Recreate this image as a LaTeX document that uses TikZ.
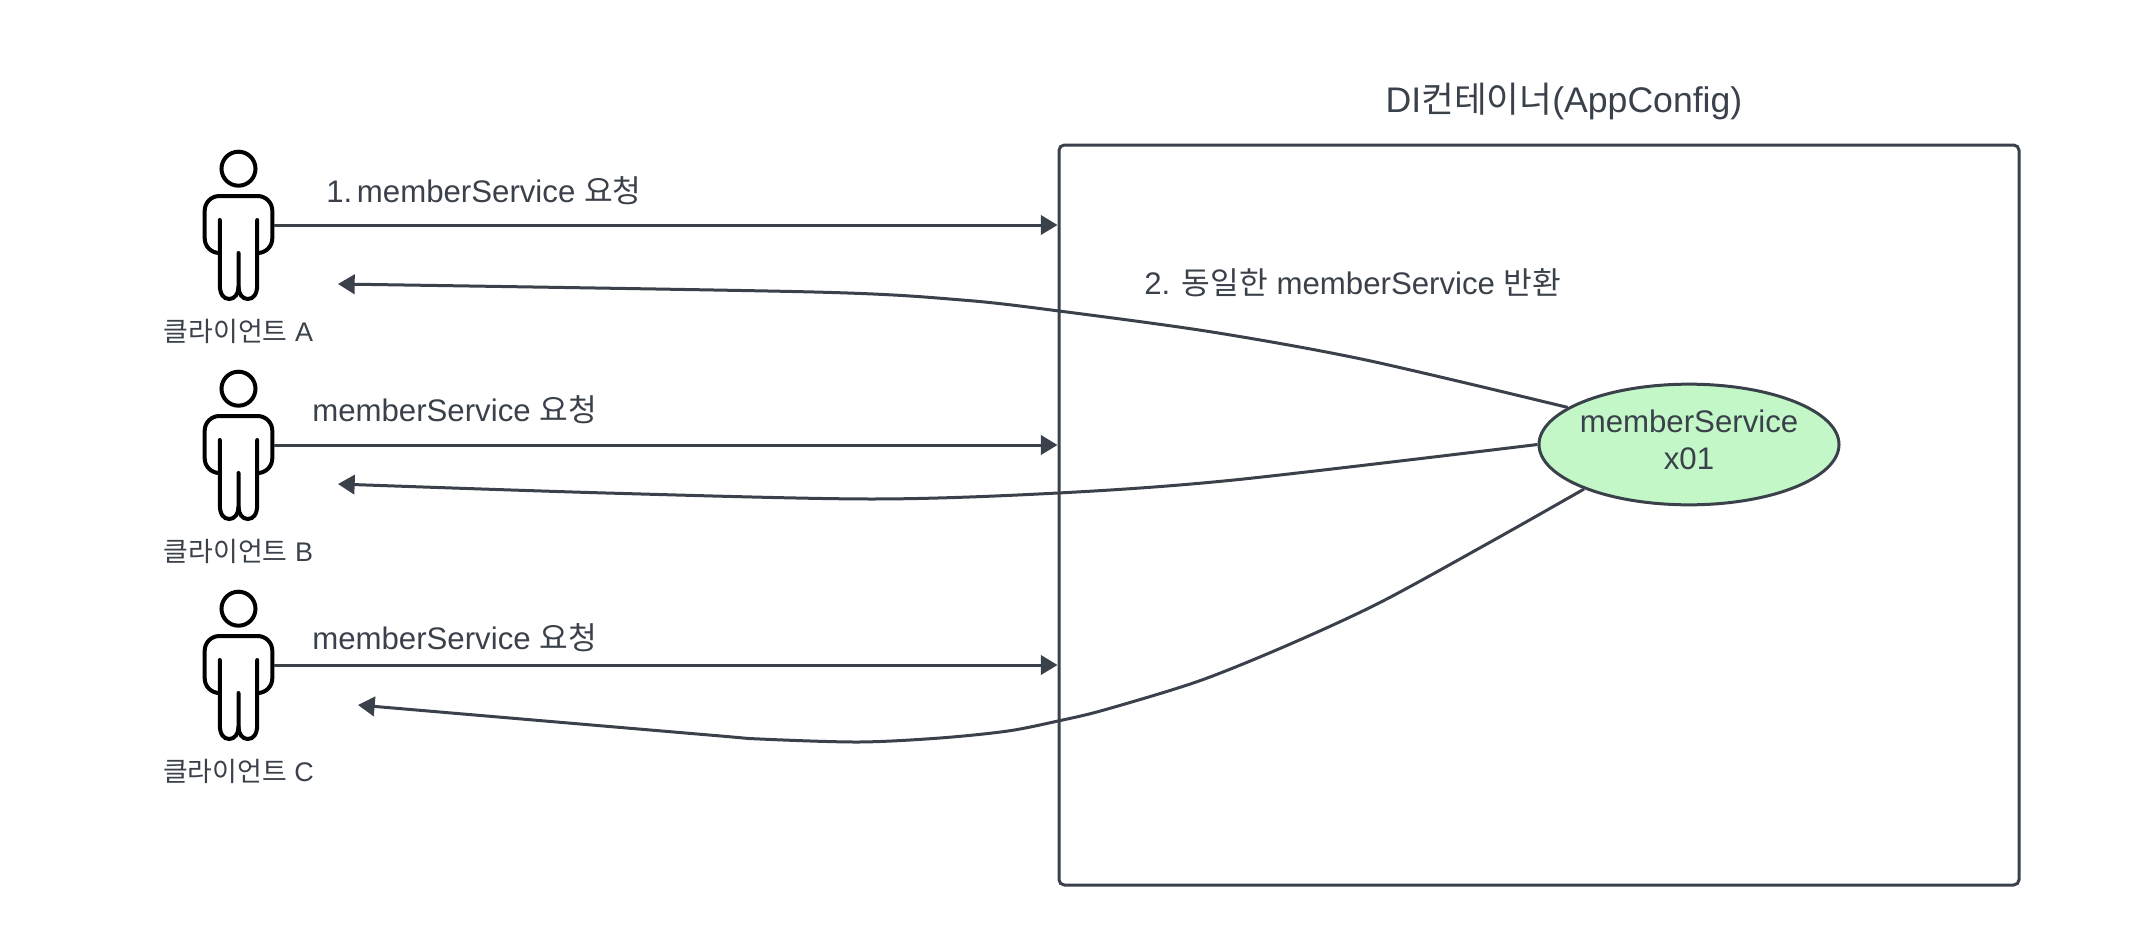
\documentclass[tikz,border=0pt]{standalone}
\usepackage{fontspec}
\setmainfont{Liberation Sans}
\newfontfamily\krfont{Noto Sans CJK KR}
\newcommand{\kr}[1]{{\krfont #1}}
\usetikzlibrary{arrows.meta,positioning,shapes.geometric}

\definecolor{inkgray}{HTML}{3A414A}
\definecolor{servicegreen}{HTML}{C3F7C8}

\begin{document}
\begin{tikzpicture}[
    x=0.75pt,
    y=-0.75pt,
    >={Triangle[length=12.5pt,width=14.5pt]},
    person/.style={
        minimum width=53.25pt,
        minimum height=112.5pt,
        inner sep=0pt
    },
    client label/.style={
        font=\fontsize{20.2}{24}\selectfont,
        text=inkgray,
        inner sep=0pt
    },
    flow label/.style={
        font=\fontsize{23.4}{28}\selectfont,
        text=inkgray,
        anchor=west,
        inner sep=0pt
    },
    flow/.style={
        ->,
        draw=inkgray,
        line width=2.25pt
    },
    figure/.pic={
        \draw[black,line width=3pt] (0,-56.3) circle (17);
        \draw[black,line width=3pt,rounded corners=11pt]
            (-18.7,28) -- (-33.8,28) -- (-33.8,-29) -- (33.8,-29) -- (33.8,28) -- (18.7,28);
        \draw[black,line width=3pt,line cap=round]
            (-18.7,-5) -- (-18.7,60) .. controls (-18.7,69) and (-15,74) .. (-9.3,74)
            .. controls (-4,74) and (0,69) .. (0,62) -- (0,28);
        \draw[black,line width=3pt,line cap=round]
            (18.7,-5) -- (18.7,60) .. controls (18.7,69) and (15,74) .. (9.3,74)
            .. controls (4,74) and (0,69) .. (0,62);
    }
]

\useasboundingbox (0,0) rectangle (2137,949);

% Container
\node[draw=inkgray,line width=2.25pt,rounded corners=4pt,minimum width=720pt,minimum height=555pt,inner sep=0pt]
    (container) at (1539,515) {};
\node[font=\fontsize{26.7}{30}\selectfont,text=inkgray,inner sep=0pt] (containertitle) at (1564,101)
    {DI\kr{컨테이너}(AppConfig)};

% Shared bean
\node[ellipse,draw=inkgray,line width=2.25pt,fill=servicegreen,minimum width=225pt,minimum height=90.5pt,inner xsep=-12pt,inner ysep=0pt,
    align=center,font=\fontsize{23.4}{27.6}\selectfont,text=inkgray,text depth=7pt] (service) at (1689,444.5) {memberService\\x01};

% Clients
\node[person] (clienta) at (238.5,225) {};
\node[person] (clientb) at (238.5,445) {};
\node[person] (clientc) at (238.5,665) {};
\foreach \who in {clienta,clientb,clientc}
    \pic at (\who) {figure};
\node[client label] (labela) at (238.5,331) {\kr{클라이언트} A};
\node[client label] (labelb) at (238.5,551) {\kr{클라이언트} B};
\node[client label] (labelc) at (238.5,771) {\kr{클라이언트} C};

% Requests
\draw[flow] (clienta.east) -- (clienta.east -| container.west);
\draw[flow] (clientb.east) -- (clientb.east -| container.west);
\draw[flow] (clientc.east) -- (clientc.east -| container.west);
\node[flow label] (reqa) at (326,191) {1.\kern3.5pt memberService \kr{요청}};
\node[flow label] (reqb) at (312,410) {memberService \kr{요청}};
\node[flow label] (reqc) at (312,638) {memberService \kr{요청}};

% Replies
\node[flow label] (reply) at (1144,283) {2. \kr{동일한} memberService \kr{반환}};
\coordinate (backa) at (338,284);
\coordinate (backb) at (338,484);
\coordinate (backc) at (358,705);
\draw[flow] plot[smooth] coordinates {(service.163) (1366,360) (1212,332) (1059,311) (962,300) (814,292) (backa)};
\draw[flow] plot[smooth] coordinates {(service.west) (1234,480) (1058,493) (872,499) (606,493) (backb)};
\draw[flow] plot[smooth] coordinates {(service.203) (1494,540) (1381,602) (1288,645) (1199,681) (1104,710) (1058,721) (1008,731) (940,738) (859,742) (760,739) (709,735) (backc)};

\end{tikzpicture}
\end{document}
